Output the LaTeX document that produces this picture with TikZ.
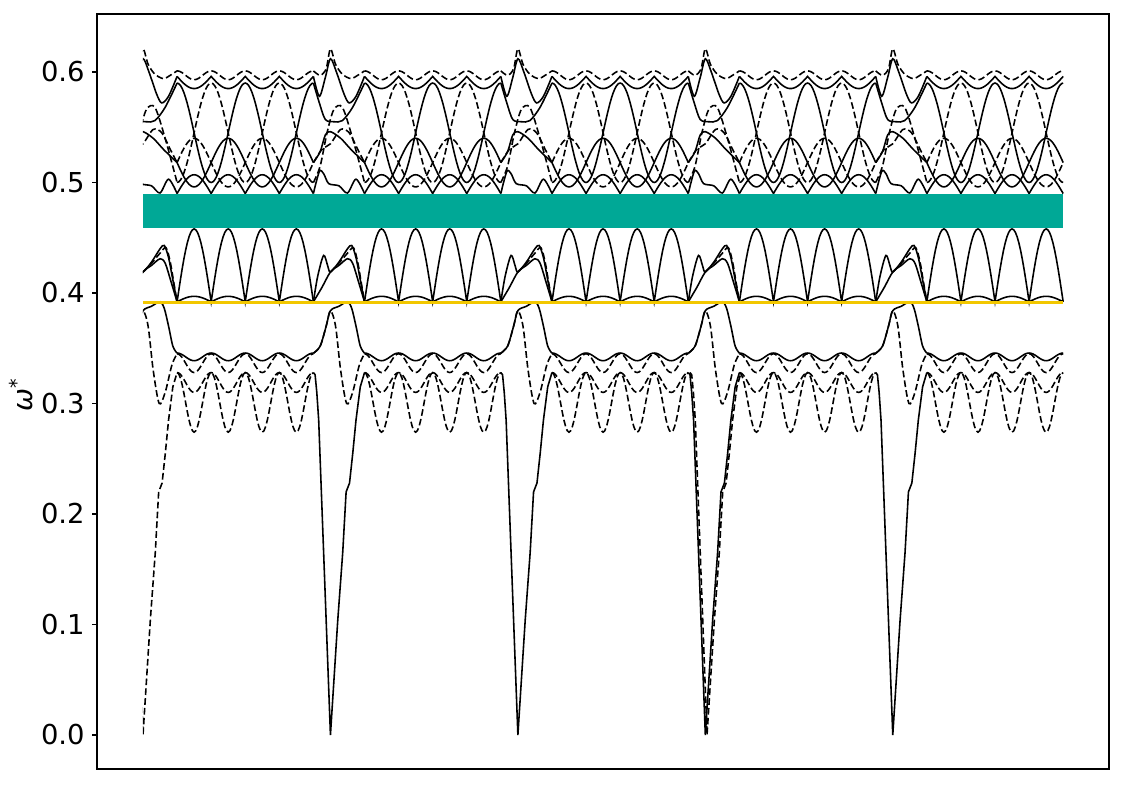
\documentclass[tikz,border=0pt]{standalone}
\usepackage{fontspec}
\setmainfont{DejaVu Sans}
\definecolor{gapfill}{RGB}{0,168,150}
\definecolor{lineyellow}{RGB}{242,199,0}

\begin{document}
\begin{tikzpicture}[x=0.3408cm, y=22.1cm,
    solidband/.style={black, line width=0.9pt},
    dashband/.style={black, line width=0.9pt, dash pattern=on 3.8pt off 1.8pt},
    ticklab/.style={font=\fontsize{15.6}{18}\selectfont, inner sep=0pt, anchor=east}]
  \useasboundingbox (-2.86cm,-1cm) rectangle (19.64cm,14.7cm);

  % regular part of each segment
  \foreach \d in {0,11,22,33,44} {
    \draw[solidband, domain=2:10, samples=81] plot ({\d+\x},{0.3422+0.0035*cos(180*\x)});
    \draw[dashband, domain=2:10, samples=81] plot ({\d+\x},{0.3365+0.0085*cos(180*\x)});
    \draw[dashband, domain=2:10, samples=81] plot ({\d+\x},{0.319+0.009*cos(180*\x)});
    \draw[dashband, domain=2:10, samples=81] plot ({\d+\x},{0.301+0.027*cos(180*\x)});
    \draw[solidband, domain=2:10, samples=81] plot ({\d+\x},{0.392+0.066*abs(sin(90*\x))});
    \draw[solidband, domain=2:10, samples=81] plot ({\d+\x},{0.392+0.005*abs(sin(90*\x))});
    \draw[solidband, domain=2:10, samples=81] plot ({\d+\x},{0.490+0.017*abs(sin(90*\x))});
    \draw[solidband, domain=2:10, samples=81] plot ({\d+\x},{0.518+0.022*sin(90*\x)});
    \draw[dashband, domain=2:10, samples=81] plot ({\d+\x},{0.518-0.022*sin(90*\x)});
    \draw[solidband, domain=2:10, samples=81] plot ({\d+\x},{0.545+0.045*cos(90*(\x-2))});
    \draw[dashband, domain=2:10, samples=81] plot ({\d+\x},{0.545-0.045*cos(90*(\x-2))});
    \draw[solidband, domain=2:10, samples=81] plot ({\d+\x},{0.585+0.011*(1-abs(sin(90*\x)))});
    \draw[dashband, domain=2:10, samples=81] plot ({\d+\x},{0.597+0.004*cos(180*\x)});
  }

  % around each zero
  \begin{scope}
    \clip (0,-0.01) rectangle (54,0.7);
    \foreach \d in {0,11,22,33,44} {
      \begin{scope}[shift={(\d,0)}]
        \draw[dashband] plot[smooth] coordinates {(-1,0.601) (-0.6,0.597) (-0.25,0.603) (0,0.621) (0.3,0.607) (0.7,0.598) (1.2,0.594) (1.6,0.597) (2,0.601)};
        \draw[solidband] plot[smooth] coordinates {(-1,0.596) (-0.65,0.578) (-0.3,0.595) (0,0.612) (0.35,0.6) (0.8,0.58) (1.1,0.572) (1.5,0.578) (2,0.596)};
        \draw[solidband] plot[smooth] coordinates {(-1,0.59) (-0.65,0.572) (-0.3,0.557) (0.2,0.555) (0.7,0.556) (1.3,0.568) (2,0.59)};
        \draw[dashband] plot[smooth] coordinates {(-1,0.5) (-0.6,0.515) (-0.2,0.545) (0.2,0.566) (0.7,0.568) (1.3,0.54) (2,0.5)};
        \draw[solidband] plot[smooth] coordinates {(-1,0.518) (-0.6,0.528) (-0.3,0.543) (0,0.546) (0.6,0.54) (1.2,0.53) (2,0.518)};
        \draw[dashband] plot[smooth] coordinates {(-1,0.518) (-0.5,0.53) (0,0.535) (0.6,0.548) (1.1,0.545) (1.6,0.53) (2,0.518)};
        \draw[solidband] plot[smooth] coordinates {(-1,0.49) (-0.65,0.51) (-0.4,0.508) (-0.1,0.499) (0.5,0.497) (1,0.4905) (1.5,0.503) (2,0.49)};
        \draw[solidband] plot[smooth] coordinates {(-1,0.392) (-0.75,0.415) (-0.4,0.434) (-0.15,0.424) (0,0.419) (0.5,0.428) (1,0.44) (1.25,0.443) (1.5,0.432) (1.75,0.412) (2,0.392)};
        \draw[solidband] plot[smooth] coordinates {(-1,0.392) (-0.5,0.405) (0,0.419) (0.5,0.425) (1,0.431) (1.3,0.427) (1.65,0.41) (2,0.392)};
        \draw[dashband] plot[smooth] coordinates {(0,0.419) (0.5,0.427) (1,0.436) (1.35,0.441) (1.6,0.428) (1.8,0.41) (2,0.392)};
        \draw[solidband] plot[smooth] coordinates {(-1,0.3455) (-0.6,0.352) (-0.25,0.37) (0,0.384) (0.5,0.388) (1,0.392) (1.25,0.386) (1.5,0.37) (1.75,0.352) (2,0.3455)};
        \draw[dashband] plot[smooth] coordinates {(-1,0.3455) (-0.6,0.352) (-0.25,0.37) (0,0.384) (0.3,0.37) (0.6,0.33) (0.95,0.3) (1.3,0.31) (1.7,0.335) (2,0.345)};
      \end{scope}
    }
    \foreach \d in {11,22,33,44}
      \draw[solidband, shift={(\d,0)}] plot coordinates {(-1,0.328) (-0.9,0.326) (-0.8,0.31) (-0.69,0.285) (0,0) (0.43,0.104) (0.72,0.165) (0.92,0.22) (1.12,0.228) (1.31,0.255) (1.5,0.285) (1.75,0.315) (2,0.328)};
    \foreach \d in {0,33.1}
      \draw[dashband, shift={(\d,0)}] plot coordinates {(-1,0.328) (-0.9,0.326) (-0.8,0.31) (-0.69,0.285) (0,0) (0.43,0.104) (0.72,0.165) (0.92,0.22) (1.12,0.228) (1.31,0.255) (1.5,0.285) (1.75,0.315) (2,0.328)};
  \end{scope}

  \fill[gapfill] (0,0.4588) rectangle (54,0.4896);
  \draw[lineyellow, line width=1.9pt] (0,0.3916) -- (54,0.3916);

  % axes
  \draw[line width=0.63pt] (-2.70,-0.0308) rectangle (56.69,0.6525);
  \foreach \v in {0,...,6} {
    \draw[line width=0.63pt] (-2.70,\v/10) -- ++(-0.1cm,0) coordinate (tk\v);
    \node[ticklab] (lab\v) at ([xshift=-0.14cm]tk\v) {0.\v};
  }
  \node[font=\fontsize{15.6}{18}\selectfont, rotate=90] (ylab) at (-2.44cm,6.8cm) {\itshape ω\textsuperscript{\upshape *}};
\end{tikzpicture}
\end{document}
